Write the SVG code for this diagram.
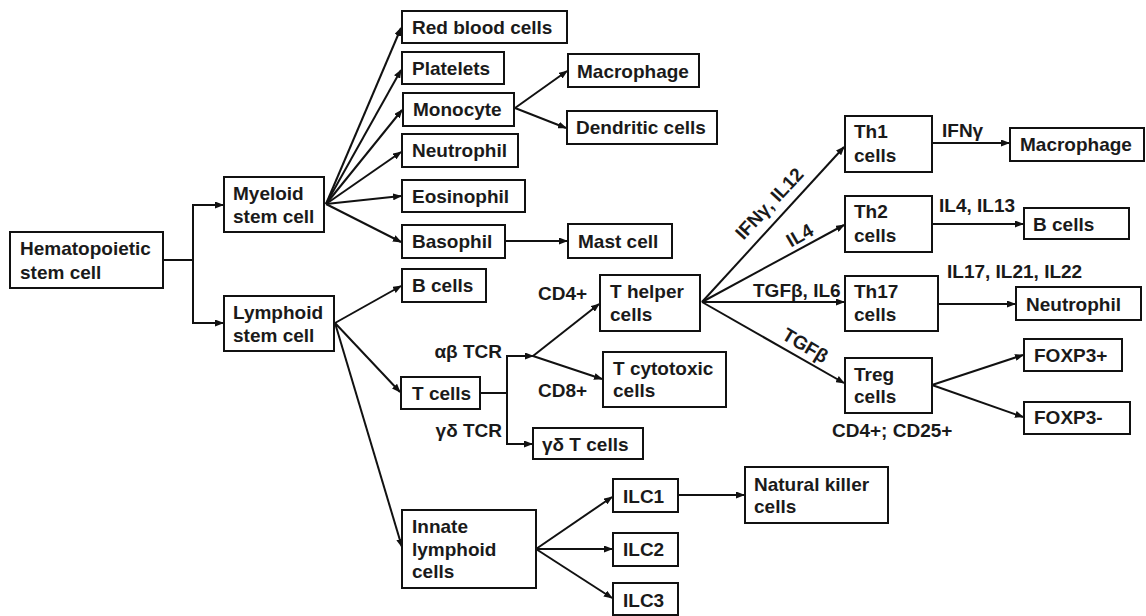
<svg xmlns="http://www.w3.org/2000/svg" width="1146" height="616" viewBox="0 0 1146 616">
<style>
.box{fill:#fff;stroke:#111;stroke-width:2}
.t{font-family:"Liberation Sans",Arial,sans-serif;font-weight:bold;font-size:19px;fill:#1a1a1a}
.c line,.c polyline{stroke:#111;stroke-width:2;fill:none}
.a{marker-end:url(#ah)}
</style>
<defs>
<marker id="ah" markerUnits="userSpaceOnUse" markerWidth="9" markerHeight="7" refX="8" refY="3.5" orient="auto">
<path d="M0,0 L9,3.5 L0,7 z" fill="#111"/>
</marker>
</defs>
<rect width="1146" height="616" fill="#fff"/>
<g class="c" id="connectors">
<polyline points="163,260 193,260"/>
<polyline points="193,205 193,323"/>
<line class="a" x1="192" y1="205" x2="223" y2="205"/>
<line class="a" x1="192" y1="323" x2="223" y2="323"/>
<line class="a" x1="326" y1="204" x2="401" y2="28"/>
<line class="a" x1="326" y1="204" x2="401" y2="70"/>
<line class="a" x1="326" y1="204" x2="402" y2="110"/>
<line class="a" x1="326" y1="204" x2="401" y2="152"/>
<line class="a" x1="326" y1="204" x2="401" y2="196"/>
<line class="a" x1="326" y1="204" x2="401" y2="242"/>
<line class="a" x1="515" y1="108" x2="567" y2="71"/>
<line class="a" x1="515" y1="108" x2="566" y2="128"/>
<line class="a" x1="505" y1="241" x2="567" y2="241"/>
<line class="a" x1="335" y1="323" x2="401" y2="286"/>
<line class="a" x1="335" y1="323" x2="400" y2="392"/>
<line class="a" x1="335" y1="323" x2="402" y2="547"/>
<polyline points="480,393 507,393"/>
<polyline points="507,355 507,445"/>
<line class="a" x1="506" y1="356" x2="533" y2="356"/>
<line class="a" x1="533" y1="356" x2="599" y2="304"/>
<line class="a" x1="533" y1="356" x2="602" y2="379"/>
<line class="a" x1="506" y1="444" x2="532" y2="444"/>
<line class="a" x1="702" y1="302" x2="844" y2="147"/>
<line class="a" x1="702" y1="302" x2="844" y2="225"/>
<line class="a" x1="702" y1="302" x2="844" y2="302"/>
<line class="a" x1="702" y1="302" x2="844" y2="383"/>
<line class="a" x1="932" y1="143" x2="1009" y2="143"/>
<line class="a" x1="932" y1="224" x2="1023" y2="224"/>
<line class="a" x1="938" y1="304" x2="1015" y2="304"/>
<line class="a" x1="932" y1="385" x2="1023" y2="355"/>
<line class="a" x1="932" y1="385" x2="1023" y2="417"/>
<line class="a" x1="536" y1="549" x2="612" y2="497"/>
<line class="a" x1="536" y1="549" x2="612" y2="549"/>
<line class="a" x1="536" y1="549" x2="612" y2="598"/>
<line class="a" x1="678" y1="495" x2="744" y2="495"/>
</g>
<g id="hsc"><rect class="box" x="10" y="232" width="153" height="56"/><text class="t" x="20" y="255">Hematopoietic</text><text class="t" x="20" y="279">stem cell</text></g>
<g id="myeloid"><rect class="box" x="224" y="177" width="100" height="55"/><text class="t" x="233" y="200">Myeloid</text><text class="t" x="233" y="223">stem cell</text></g>
<g id="lymphoid"><rect class="box" x="224" y="296" width="110" height="55"/><text class="t" x="233" y="319">Lymphoid</text><text class="t" x="233" y="342">stem cell</text></g>
<g id="rbc"><rect class="box" x="402" y="11" width="165" height="32"/><text class="t" x="412" y="34">Red blood cells</text></g>
<g id="platelets"><rect class="box" x="402" y="52" width="102" height="32"/><text class="t" x="412" y="75">Platelets</text></g>
<g id="monocyte"><rect class="box" x="403" y="93" width="111" height="33"/><text class="t" x="413" y="116">Monocyte</text></g>
<g id="neutrophil"><rect class="box" x="402" y="134" width="116" height="33"/><text class="t" x="412" y="157">Neutrophil</text></g>
<g id="eosinophil"><rect class="box" x="402" y="180" width="123" height="32"/><text class="t" x="412" y="203">Eosinophil</text></g>
<g id="basophil"><rect class="box" x="402" y="225" width="103" height="33"/><text class="t" x="412" y="248">Basophil</text></g>
<g id="bcells"><rect class="box" x="402" y="269" width="84" height="33"/><text class="t" x="412" y="292">B cells</text></g>
<g id="macrophage"><rect class="box" x="568" y="54" width="131" height="33"/><text class="t" x="577" y="78">Macrophage</text></g>
<g id="dendritic"><rect class="box" x="567" y="111" width="150" height="33"/><text class="t" x="576" y="134">Dendritic cells</text></g>
<g id="mast"><rect class="box" x="568" y="224" width="104" height="34"/><text class="t" x="578" y="248">Mast cell</text></g>
<g id="thelper"><rect class="box" x="600" y="275" width="100" height="56"/><text class="t" x="610" y="298">T helper</text><text class="t" x="610" y="321">cells</text></g>
<g id="tcyto"><rect class="box" x="603" y="352" width="123" height="55"/><text class="t" x="613" y="375">T cytotoxic</text><text class="t" x="613" y="397">cells</text></g>
<g id="tcells"><rect class="box" x="401" y="377" width="79" height="32"/><text class="t" x="412" y="400">T cells</text></g>
<g id="gdt"><rect class="box" x="533" y="428" width="110" height="31"/><text class="t" x="542" y="451">γδ T cells</text></g>
<g id="innate"><rect class="box" x="402" y="510" width="134" height="78"/><text class="t" x="412" y="533">Innate</text><text class="t" x="412" y="556">lymphoid</text><text class="t" x="412" y="578">cells</text></g>
<g id="ilc1"><rect class="box" x="613" y="479" width="65" height="33"/><text class="t" x="623" y="503">ILC1</text></g>
<g id="ilc2"><rect class="box" x="613" y="533" width="65" height="33"/><text class="t" x="623" y="556">ILC2</text></g>
<g id="ilc3"><rect class="box" x="613" y="583" width="65" height="32"/><text class="t" x="623" y="607">ILC3</text></g>
<g id="nk"><rect class="box" x="745" y="467" width="143" height="56"/><text class="t" x="754" y="491">Natural killer</text><text class="t" x="754" y="513">cells</text></g>
<g id="th1"><rect class="box" x="845" y="116" width="87" height="56"/><text class="t" x="854" y="138">Th1</text><text class="t" x="854" y="162">cells</text></g>
<g id="th2"><rect class="box" x="845" y="196" width="87" height="56"/><text class="t" x="854" y="218">Th2</text><text class="t" x="854" y="242">cells</text></g>
<g id="th17"><rect class="box" x="845" y="276" width="93" height="55"/><text class="t" x="854" y="298">Th17</text><text class="t" x="854" y="321">cells</text></g>
<g id="treg"><rect class="box" x="845" y="358" width="87" height="55"/><text class="t" x="854" y="381">Treg</text><text class="t" x="854" y="403">cells</text></g>
<g id="macrophage2"><rect class="box" x="1010" y="128" width="134" height="33"/><text class="t" x="1020" y="151">Macrophage</text></g>
<g id="bcells2"><rect class="box" x="1024" y="208" width="105" height="31"/><text class="t" x="1033" y="231">B cells</text></g>
<g id="neutrophil2"><rect class="box" x="1016" y="287" width="125" height="33"/><text class="t" x="1026" y="311">Neutrophil</text></g>
<g id="foxp3p"><rect class="box" x="1024" y="339" width="98" height="32"/><text class="t" x="1034" y="362">FOXP3+</text></g>
<g id="foxp3m"><rect class="box" x="1024" y="402" width="106" height="32"/><text class="t" x="1034" y="424">FOXP3-</text></g>
<g id="labels">
<text class="t" x="538" y="300">CD4+</text>
<text class="t" x="538" y="397">CD8+</text>
<text class="t" x="502" y="358" text-anchor="end">αβ TCR</text>
<text class="t" x="502" y="437" text-anchor="end">γδ TCR</text>
<text class="t" x="753" y="297">TGFβ, IL6</text>
<text class="t" x="942" y="137">IFNγ</text>
<text class="t" x="939" y="212">IL4, IL13</text>
<text class="t" x="947" y="278">IL17, IL21, IL22</text>
<text class="t" x="832" y="437">CD4+; CD25+</text>
<text class="t" text-anchor="middle" transform="translate(774,208) rotate(-47)">IFNγ, IL12</text>
<text class="t" text-anchor="middle" transform="translate(803,241) rotate(-30)">IL4</text>
<text class="t" text-anchor="middle" transform="translate(802,351) rotate(31)">TGFβ</text>
</g>
</svg>
